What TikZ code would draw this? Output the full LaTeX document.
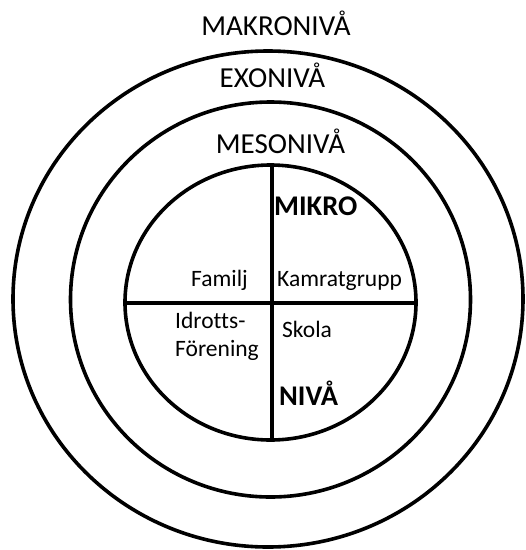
\documentclass[tikz,border=0pt]{standalone}
\usepackage{fontspec}
\setmainfont{Carlito}[Ligatures=NoCommon]
\begin{document}
\begin{tikzpicture}[x=1pt,y=-1pt,
  ring/.style={draw=black,line width=3.6pt},
  divider/.style={draw=black,line width=3.6pt},
  big/.style={inner sep=0pt,font=\fontsize{29}{34}\selectfont},
  bigbold/.style={inner sep=0pt,font=\fontsize{28.5}{34}\selectfont\bfseries},
  small/.style={inner sep=0pt,font=\fontsize{23.5}{28}\selectfont}]
\useasboundingbox (0,0) rectangle (526,550);
% rings
\draw[ring] (268,299) ellipse [x radius=255, y radius=248];
\draw[ring] (270.5,299.5) ellipse [x radius=200, y radius=197.5];
\draw[ring] (270.5,302.5) ellipse [x radius=145.5, y radius=137.5];
% dividers
\coordinate (hl) at (125,303);
\coordinate (hr) at (416,303);
\coordinate (vt) at (272,165);
\coordinate (vb) at (272,440);
\draw[divider] (hl) -- (hr);
\draw[divider] (vt) -- (vb);
% level labels
\node[big,anchor=base] (makro) at (276,35) {MAKRONIVÅ};
\node[big,anchor=base] (exo) at (272.5,87) {EXONIVÅ};
\node[big,anchor=base] (meso) at (280.5,153) {MESONIVÅ};
\node[bigbold,anchor=base west] (mikro) at (274,215) {MIKRO};
\node[bigbold,anchor=base west] (niva) at (279,405) {NIVÅ};
% quadrant labels
\node[small,anchor=base west] (familj) at (191,286) {Familj};
\node[small,anchor=base west] (kamrat) at (277,286) {Kamratgrupp};
\node[small,anchor=base west] (idrott) at (175,328) {Idrotts-};
\node[small,anchor=base west] (forening) at (175,356) {Förening};
\node[small,anchor=base west] (skola) at (282,337) {Skola};
\end{tikzpicture}
\end{document}
